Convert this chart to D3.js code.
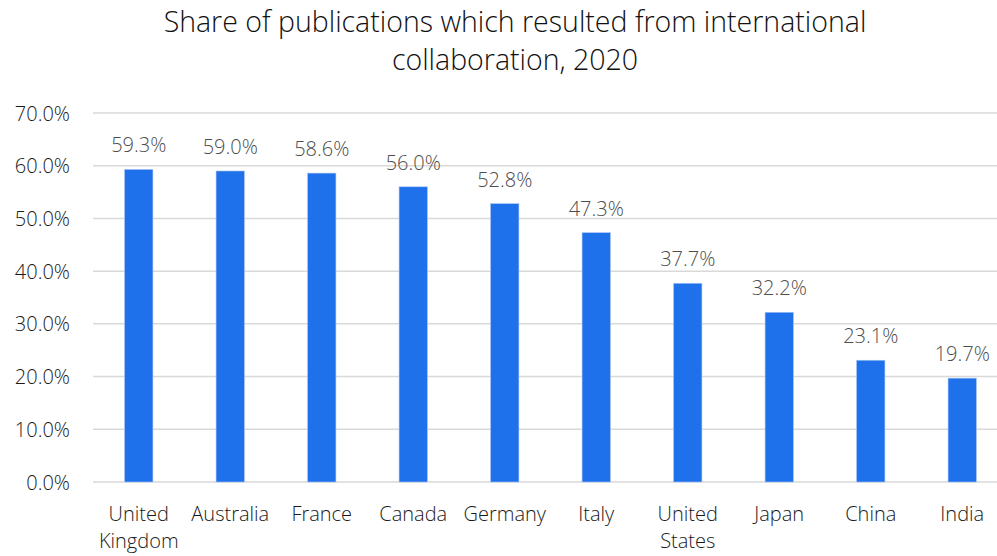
<!DOCTYPE html>
<html>
<head>
<meta charset="utf-8">
<script src="https://cdn.jsdelivr.net/npm/d3@7"></script>
<style>
  body { margin: 0; background: #fff; }
  text { font-family: "Open Sans", "Noto Sans", sans-serif; }
</style>
</head>
<body>
<div id="chart"></div>
<script>
const countries = ["United Kingdom", "Australia", "France", "Canada", "Germany", "Italy", "United States", "Japan", "China", "India"];
const shares = [59.3, 59.0, 58.6, 56.0, 52.8, 47.3, 37.7, 32.2, 23.1, 19.7];
const yTicks = [0, 10, 20, 30, 40, 50, 60, 70];
const titleLines = ["Share of publications which resulted from international", "collaboration, 2020"];

function renderChart() {
    const width = 997;
    const height = 556;
    const margin = { left: 93, right: -11, top: 113, bottom: 74 };

    const svg = d3.select("#chart").append("svg")
        .attr("width", width)
        .attr("height", height)
        .attr("viewBox", `0 0 ${width} ${height}`);

    const x = d3.scaleBand()
        .domain(countries)
        .range([margin.left, width - margin.right])
        .paddingInner(0.69)
        .paddingOuter(0.345);

    const y = d3.scaleLinear()
        .domain([0, 70])
        .range([height - margin.bottom, margin.top]);

    svg.append("g")
        .selectAll("text")
        .data(titleLines)
        .join("text")
        .attr("x", 515)
        .attr("y", (d, i) => 32 + i * 38)
        .attr("text-anchor", "middle")
        .attr("font-size", 28.5)
        .attr("font-weight", 300)
        .attr("fill", "#111")
        .text((d) => d);

    // gridlines
    svg.append("g")
        .selectAll("line")
        .data(yTicks)
        .join("line")
        .attr("x1", margin.left)
        .attr("x2", width)
        .attr("y1", (d) => y(d))
        .attr("y2", (d) => y(d))
        .attr("stroke", "#d9d9d9")
        .attr("stroke-width", 1.5);

    svg.append("g")
        .selectAll("text")
        .data(yTicks)
        .join("text")
        .attr("x", 70)
        .attr("y", (d) => y(d) + 7.5)
        .attr("text-anchor", "end")
        .attr("font-size", 20)
        .attr("font-weight", 300)
        .attr("fill", "#1a1a1a")
        .text((d) => d3.format(".1f")(d) + "%");

    svg.append("g")
        .selectAll("rect")
        .data(countries)
        .join("rect")
        .attr("x", (d) => x(d))
        .attr("width", x.bandwidth())
        .attr("y", (d, i) => y(shares[i]))
        .attr("height", (d, i) => y(0) - y(shares[i]))
        .attr("fill", "#1f70eb")
        .attr("stroke", "#a9c6f3")
        .attr("stroke-width", 0.6);

    svg.append("g")
        .selectAll("text")
        .data(countries)
        .join("text")
        .attr("x", (d) => x(d) + x.bandwidth() / 2)
        .attr("y", (d, i) => y(shares[i]) - 17)
        .attr("text-anchor", "middle")
        .attr("font-size", 20)
        .attr("font-weight", 300)
        .attr("fill", "#4d4d4d")
        .text((d, i) => d3.format(".1f")(shares[i]) + "%");

    const cat = svg.append("g")
        .selectAll("text")
        .data(countries)
        .join("text")
        .attr("text-anchor", "middle")
        .attr("font-size", 20)
        .attr("font-weight", 300)
        .attr("fill", "#1a1a1a");

    cat.each(function (d) {
        const words = d.split(" ");
        const t = d3.select(this);
        const cx = x(d) + x.bandwidth() / 2;
        words.forEach((w, i) => {
            t.append("tspan")
                .attr("x", cx)
                .attr("y", 521 + i * 27)
                .text(w);
        });
    });
}

renderChart();
</script>
</body>
</html>
